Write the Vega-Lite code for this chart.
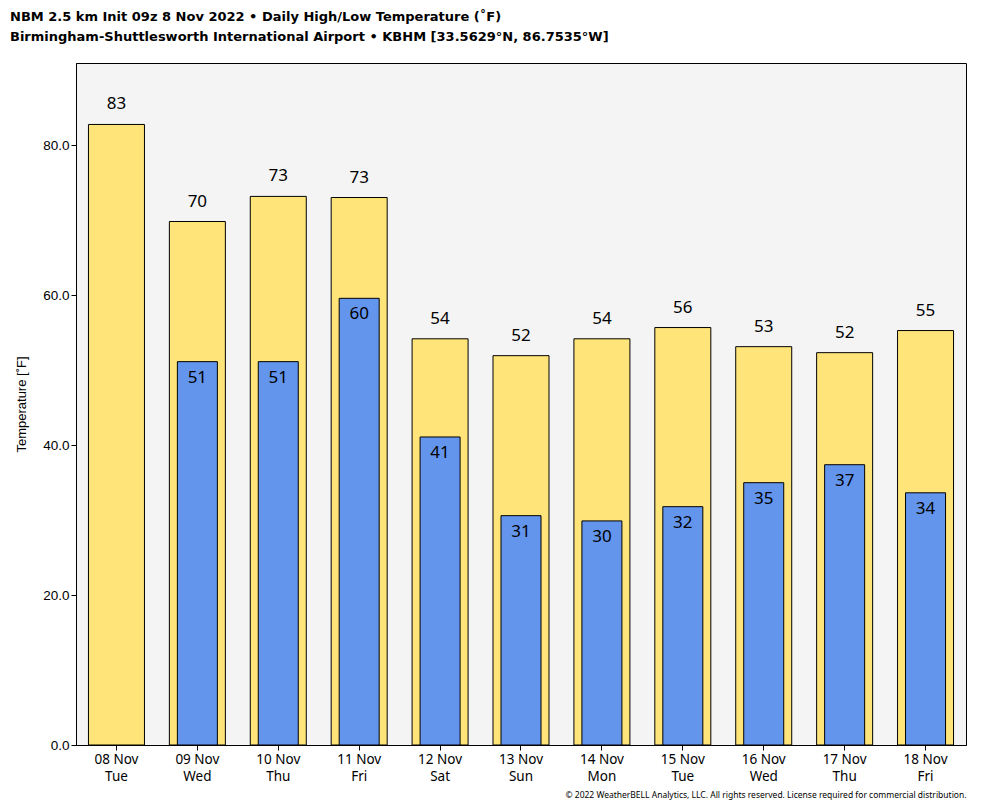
{
  "$schema": "https://vega.github.io/schema/vega-lite/v6.json",
  "width": 890,
  "height": 682,
  "autosize": {"type": "none"},
  "padding": {"left": 76, "top": 63, "right": 18, "bottom": 63},
  "background": "white",
  "title": {
    "text": "NBM 2.5 km Init 09z 8 Nov 2022 • Daily High/Low Temperature (˚F)",
    "subtitle": "Birmingham-Shuttlesworth International Airport • KBHM [33.5629°N, 86.7535°W]",
    "anchor": "start",
    "frame": "group",
    "dx": -66,
    "offset": 19,
    "font": "DejaVu Sans",
    "fontSize": 13,
    "fontWeight": "bold",
    "color": "black",
    "subtitleFont": "DejaVu Sans",
    "subtitleFontSize": 13,
    "subtitleFontWeight": "bold",
    "subtitleColor": "black",
    "subtitlePadding": 7
  },
  "config": {
    "view": {"fill": "#f4f4f4", "stroke": "black", "strokeWidth": 1},
    "axis": {"grid": false, "domainColor": "black", "tickColor": "black", "labelColor": "black", "titleColor": "black"}
  },
  "data": {
    "values": [
      {"day": "08 Nov|Tue", "high": 82.8, "low": null},
      {"day": "09 Nov|Wed", "high": 69.85, "low": 51.15},
      {"day": "10 Nov|Thu", "high": 73.2, "low": 51.15},
      {"day": "11 Nov|Fri", "high": 73.05, "low": 59.6},
      {"day": "12 Nov|Sat", "high": 54.2, "low": 41.1},
      {"day": "13 Nov|Sun", "high": 51.95, "low": 30.6},
      {"day": "14 Nov|Mon", "high": 54.2, "low": 29.9},
      {"day": "15 Nov|Tue", "high": 55.7, "low": 31.8},
      {"day": "16 Nov|Wed", "high": 53.15, "low": 35.0},
      {"day": "17 Nov|Thu", "high": 52.35, "low": 37.4},
      {"day": "18 Nov|Fri", "high": 55.3, "low": 33.65}
    ]
  },
  "encoding": {
    "x": {
      "field": "day",
      "type": "nominal",
      "sort": null,
      "scale": {"paddingInner": 0, "paddingOuter": 0},
      "axis": {
        "labelAngle": 0,
        "labelExpr": "split(datum.value, '|')",
        "labelFont": "Noto Sans",
        "labelFontSize": 13.5,
        "labelLineHeight": 17,
        "labelPadding": 2,
        "tickSize": 5,
        "title": "© 2022 WeatherBELL Analytics, LLC. All rights reserved. License required for commercial distribution.",
        "titleFont": "Noto Sans",
        "titleFontSize": 8.5,
        "titleFontWeight": "normal",
        "titleAnchor": "end",
        "titlePadding": 8
      }
    }
  },
  "layer": [
    {
      "mark": {"type": "bar", "size": 56, "fill": "#FFE47A", "stroke": "black", "strokeWidth": 1},
      "encoding": {
        "y": {
          "field": "high",
          "type": "quantitative",
          "scale": {"domain": [0, 91], "nice": false},
          "axis": {
            "values": [0, 20, 40, 60, 80],
            "format": ".1f",
            "labelFont": "Liberation Sans",
            "labelFontSize": 13.5,
            "tickSize": 5,
            "title": "Temperature [˚F]",
            "titleFont": "Liberation Sans",
            "titleFontSize": 13,
            "titleFontWeight": "normal",
            "titlePadding": 14
          }
        }
      }
    },
    {
      "mark": {"type": "bar", "size": 40, "fill": "#6495ED", "stroke": "black", "strokeWidth": 1},
      "encoding": {"y": {"field": "low", "type": "quantitative"}}
    },
    {
      "mark": {"type": "text", "font": "Noto Sans", "fontSize": 17, "baseline": "bottom", "dy": -11, "color": "black"},
      "encoding": {
        "y": {"field": "high", "type": "quantitative"},
        "text": {"field": "high", "type": "quantitative", "format": ".0f"}
      }
    },
    {
      "transform": [{"filter": "datum.low != null"}],
      "mark": {"type": "text", "font": "Noto Sans", "fontSize": 17, "baseline": "top", "dy": 8, "color": "black"},
      "encoding": {
        "y": {"field": "low", "type": "quantitative"},
        "text": {"field": "low", "type": "quantitative", "format": ".0f"}
      }
    }
  ]
}
